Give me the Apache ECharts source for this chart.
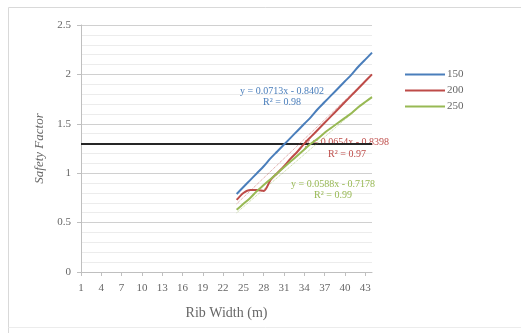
<!DOCTYPE html>
<html>
<head>
<meta charset="utf-8">
<script src="https://cdn.jsdelivr.net/npm/echarts@6/dist/echarts.min.js"></script>
<style>
  html, body { margin: 0; padding: 0; background: #fff; }
  #chart { width: 521px; height: 333px; }
</style>
</head>
<body>
<div id="chart"></div>
<script>
// rib width categories 1..44, data only from 24 on
const ribWidths = Array.from({ length: 44 }, (_, i) => String(i + 1));
const startWidth = 24;

const sf150 = [0.79, 0.86, 0.93, 1.00, 1.07, 1.15, 1.22, 1.29, 1.36, 1.43, 1.50,
  1.57, 1.65, 1.72, 1.79, 1.86, 1.93, 2.00, 2.08, 2.15, 2.22];
const sf200 = [0.73, 0.80, 0.83, 0.83, 0.82, 0.93, 1.00, 1.07, 1.15, 1.22, 1.30,
  1.37, 1.44, 1.51, 1.58, 1.65, 1.72, 1.79, 1.86, 1.93, 2.00];
const sf250 = [0.63, 0.69, 0.75, 0.82, 0.88, 0.94, 1.00, 1.06, 1.12, 1.18, 1.24,
  1.30, 1.35, 1.41, 1.46, 1.51, 1.56, 1.61, 1.67, 1.72, 1.77];

// trend line end points (at 24 and 44)
const trend200 = [0.69, 2.00];
const trend250 = [0.60, 1.78];

const targetSF = 1.3;

const colors = { '150': '#4a7ebb', '200': '#be4b48', '250': '#98b954' };
const serif = '"Liberation Serif", "Times New Roman", serif';
const textGray = '#666666';

const pad = vals => ribWidths.map((w, i) => {
  const k = i - (startWidth - 1);
  return k >= 0 && k < vals.length ? vals[k] : null;
});
const trend = ends => ribWidths.map((w, i) => {
  if (i === startWidth - 1) return ends[0];
  if (i === ribWidths.length - 1) return ends[1];
  return null;
});

const chart = echarts.init(document.getElementById('chart'));

const lineSeries = (name, vals) => ({
  name,
  type: 'line',
  data: pad(vals),
  showSymbol: false,
  smooth: 0.3,
  lineStyle: { color: colors[name], width: 2 },
  itemStyle: { color: colors[name] },
  z: 3,
});

const trendSeries = (name, ends) => ({
  name: name + ' trend',
  type: 'line',
  data: trend(ends),
  connectNulls: true,
  showSymbol: false,
  lineStyle: { color: colors[name], width: 1, type: 'dotted', opacity: 0.6 },
  z: 2,
});

chart.setOption({
  animation: false,
  grid: { left: 81, right: 149, top: 25, bottom: 61 },
  legend: {
    data: ['150', '200', '250'],
    orient: 'vertical',
    left: 400,
    top: 64,
    itemWidth: 40,
    itemHeight: 2,
    itemGap: 5,
    icon: 'rect',
    textStyle: { fontFamily: serif, fontSize: 11, color: textGray, padding: [0, 0, 0, -3] },
  },
  xAxis: {
    type: 'category',
    data: ribWidths,
    boundaryGap: false,
    name: 'Rib Width (m)',
    nameLocation: 'middle',
    nameGap: 34,
    nameTextStyle: { fontFamily: serif, fontSize: 14, color: textGray },
    axisLine: { lineStyle: { color: '#bfbfbf' } },
    axisTick: { interval: 2, length: 4, lineStyle: { color: '#bfbfbf' } },
    axisLabel: { interval: 2, fontFamily: serif, fontSize: 11, color: textGray, margin: 11 },
    splitLine: { show: false },
  },
  yAxis: {
    type: 'value',
    min: 0,
    max: 2.5,
    interval: 0.5,
    name: 'Safety Factor',
    nameLocation: 'middle',
    nameGap: 34,
    nameTextStyle: { fontFamily: serif, fontSize: 13, fontStyle: 'italic', color: textGray },
    axisLine: { show: true, lineStyle: { color: '#bfbfbf' } },
    axisTick: { show: true, length: 4, lineStyle: { color: '#bfbfbf' } },
    axisLabel: { fontFamily: serif, fontSize: 11, color: textGray, margin: 10 },
    splitLine: { lineStyle: { color: '#d0d0d0' } },
    minorTick: { show: false, splitNumber: 5 },
    minorSplitLine: { show: true, lineStyle: { color: '#ececec' } },
  },
  series: [
    Object.assign(lineSeries('150', sf150), {
      markLine: {
        silent: true,
        symbol: 'none',
        label: { show: false },
        lineStyle: { color: '#262626', width: 2, type: 'solid' },
        data: [{ yAxis: targetSF }],
        z: 1,
      },
    }),
    lineSeries('200', sf200),
    lineSeries('250', sf250),
    trendSeries('200', trend200),
    trendSeries('250', trend250),
  ],
  graphic: [
    {
      type: 'polyline',
      shape: { points: [[8.5, 400], [8.5, 7.5], [530, 7.5]] },
      style: { stroke: '#d9d9d9', fill: null, lineWidth: 1 },
      silent: true,
    },
    {
      type: 'line',
      shape: { x1: 8.5, y1: 327.5, x2: 530, y2: 327.5 },
      style: { stroke: '#ececec', lineWidth: 1 },
      silent: true,
    },
    {
      type: 'text', x: 282, y: 86, z: 1,
      style: { text: 'y = 0.0713x - 0.8402\nR² = 0.98', fill: colors['150'], font: '10px ' + serif, align: 'center', lineHeight: 11 },
    },
    {
      type: 'text', x: 347, y: 136, z: 1,
      style: { text: 'y = 0.0654x - 0.8398\nR² = 0.97', fill: colors['200'], font: '10px ' + serif, align: 'center', lineHeight: 12 },
    },
    {
      type: 'text', x: 333, y: 179, z: 1,
      style: { text: 'y = 0.0588x - 0.7178\nR² = 0.99', fill: colors['250'], font: '10px ' + serif, align: 'center', lineHeight: 11 },
    },
  ],
});
</script>
</body>
</html>
